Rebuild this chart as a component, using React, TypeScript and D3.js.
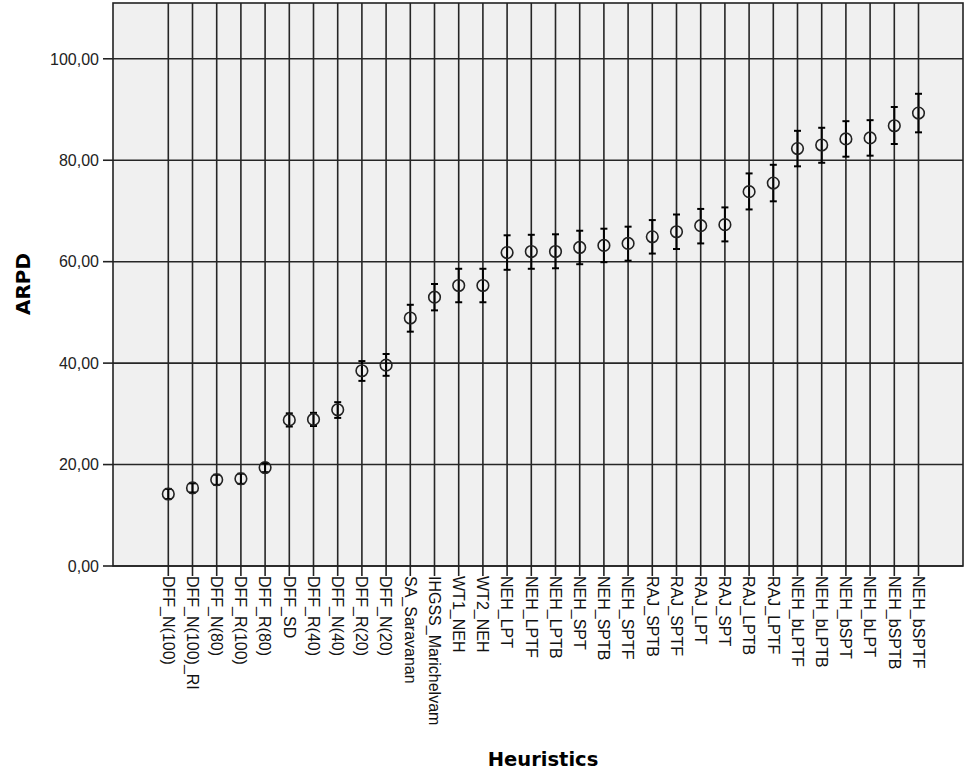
import React from "react";
import * as d3 from "d3";

// Heuristic names along the x axis
const categories: string[] = [
  "DFF_N(100)", "DFF_N(100)_RI", "DFF_N(80)", "DFF_R(100)", "DFF_R(80)", "DFF_SD",
  "DFF_R(40)", "DFF_N(40)", "DFF_R(20)", "DFF_N(20)", "SA_Saravanan", "IHGSS_Marichelvam",
  "WT1_NEH", "WT2_NEH", "NEH_LPT", "NEH_LPTF", "NEH_LPTB", "NEH_SPT", "NEH_SPTB", "NEH_SPTF",
  "RAJ_SPTB", "RAJ_SPTF", "RAJ_LPT", "RAJ_SPT", "RAJ_LPTB", "RAJ_LPTF",
  "NEH_bLPTF", "NEH_bLPTB", "NEH_bSPT", "NEH_bLPT", "NEH_bSPTB", "NEH_bSPTF",
];

// Mean ARPD per heuristic
const means: number[] = [
  14.2, 15.4, 17.0, 17.2, 19.4, 28.8, 28.9, 30.8, 38.5, 39.6, 48.9, 53.0,
  55.3, 55.3, 61.8, 62.0, 62.0, 62.8, 63.2, 63.6, 64.9, 65.9, 67.1, 67.3,
  73.8, 75.5, 82.3, 83.0, 84.2, 84.4, 86.8, 89.3,
];

// Lower and upper bounds of the confidence interval
const lower: number[] = [
  13.2, 14.5, 16.0, 16.2, 18.5, 27.5, 27.6, 29.2, 36.5, 37.5, 46.2, 50.4,
  52.0, 52.0, 58.4, 58.6, 58.7, 59.5, 59.9, 60.2, 61.6, 62.5, 63.6, 64.0,
  70.3, 71.9, 78.8, 79.5, 80.7, 80.9, 83.2, 85.5,
];
const upper: number[] = [
  15.2, 16.3, 18.0, 18.2, 20.3, 30.1, 30.2, 32.3, 40.4, 41.8, 51.5, 55.6,
  58.6, 58.6, 65.2, 65.3, 65.4, 66.1, 66.5, 66.9, 68.2, 69.3, 70.4, 70.7,
  77.4, 79.1, 85.8, 86.4, 87.7, 87.9, 90.5, 93.1,
];

const yTicks: number[] = [0, 20, 40, 60, 80, 100];

const W = 964;
const H = 773;
const plot = { left: 113, right: 963, top: 3, bottom: 566 };

const fmt = (v: number) => v.toFixed(2).replace(".", ",");

export default function App() {
  const x = d3
    .scalePoint<string>()
    .domain(categories)
    .range([168.3, 918.5]);
  const y = d3.scaleLinear().domain([0, 111]).range([plot.bottom, plot.top]);

  const labelFont = "'Liberation Sans', Arial, Helvetica, sans-serif";
  const titleFont = "'DejaVu Sans', Verdana, sans-serif";

  return (
    <svg
      width={W}
      height={H}
      style={{ position: "absolute", left: 0, top: 0, display: "block", background: "#fff" }}
    >
      {/* plot background */}
      <rect
        x={plot.left}
        y={plot.top}
        width={plot.right - plot.left}
        height={plot.bottom - plot.top}
        fill="#f0f0f0"
      />

      {/* horizontal grid lines */}
      {yTicks.map((t) => (
        <line
          key={`h${t}`}
          x1={plot.left}
          x2={plot.right}
          y1={y(t)}
          y2={y(t)}
          stroke="#262626"
          strokeWidth={1.6}
        />
      ))}

      {/* vertical grid lines, one per heuristic */}
      {categories.map((c) => (
        <line
          key={`v${c}`}
          x1={x(c)}
          x2={x(c)}
          y1={plot.top}
          y2={plot.bottom}
          stroke="#262626"
          strokeWidth={1.6}
        />
      ))}

      {/* frame */}
      <rect
        x={plot.left}
        y={plot.top}
        width={plot.right - plot.left}
        height={plot.bottom - plot.top}
        fill="none"
        stroke="#222"
        strokeWidth={1.6}
      />

      {/* y axis ticks and labels */}
      {yTicks.map((t) => (
        <g key={`yt${t}`}>
          <line
            x1={plot.left - 10}
            x2={plot.left}
            y1={y(t)}
            y2={y(t)}
            stroke="#222"
            strokeWidth={1.6}
          />
          <text
            x={plot.left - 14}
            y={y(t)}
            dy="0.36em"
            textAnchor="end"
            fontFamily={labelFont}
            fontSize={16}
            fill="#222"
          >
            {fmt(t)}
          </text>
        </g>
      ))}

      {/* x axis ticks and rotated labels */}
      {categories.map((c) => (
        <g key={`xt${c}`}>
          <line
            x1={x(c)}
            x2={x(c)}
            y1={plot.bottom}
            y2={plot.bottom + 10}
            stroke="#222"
            strokeWidth={1.6}
          />
          <text
            transform={`translate(${x(c)},${plot.bottom + 10}) rotate(90)`}
            dy="0.36em"
            textAnchor="start"
            fontFamily={labelFont}
            fontSize={16}
            fill="#111"
          >
            {c}
          </text>
        </g>
      ))}

      {/* error bars with caps */}
      {categories.map((c, i) => {
        const cx = x(c) as number;
        return (
          <g key={`e${c}`} stroke="#000" strokeWidth={2}>
            <line x1={cx} x2={cx} y1={y(lower[i])} y2={y(upper[i])} />
            <line x1={cx - 3.5} x2={cx + 3.5} y1={y(lower[i])} y2={y(lower[i])} />
            <line x1={cx - 3.5} x2={cx + 3.5} y1={y(upper[i])} y2={y(upper[i])} />
          </g>
        );
      })}

      {/* mean markers */}
      {categories.map((c, i) => (
        <circle
          key={`m${c}`}
          cx={x(c)}
          cy={y(means[i])}
          r={5.8}
          fill="none"
          stroke="#222"
          strokeWidth={1.6}
        />
      ))}

      {/* axis titles */}
      <text
        transform={`translate(30,284) rotate(-90)`}
        textAnchor="middle"
        fontFamily={titleFont}
        fontWeight="bold"
        fontSize={20}
        fill="#000"
      >
        ARPD
      </text>
      <text
        x={543}
        y={766}
        textAnchor="middle"
        fontFamily={titleFont}
        fontWeight="bold"
        fontSize={19.5}
        fill="#000"
      >
        Heuristics
      </text>
    </svg>
  );
}
